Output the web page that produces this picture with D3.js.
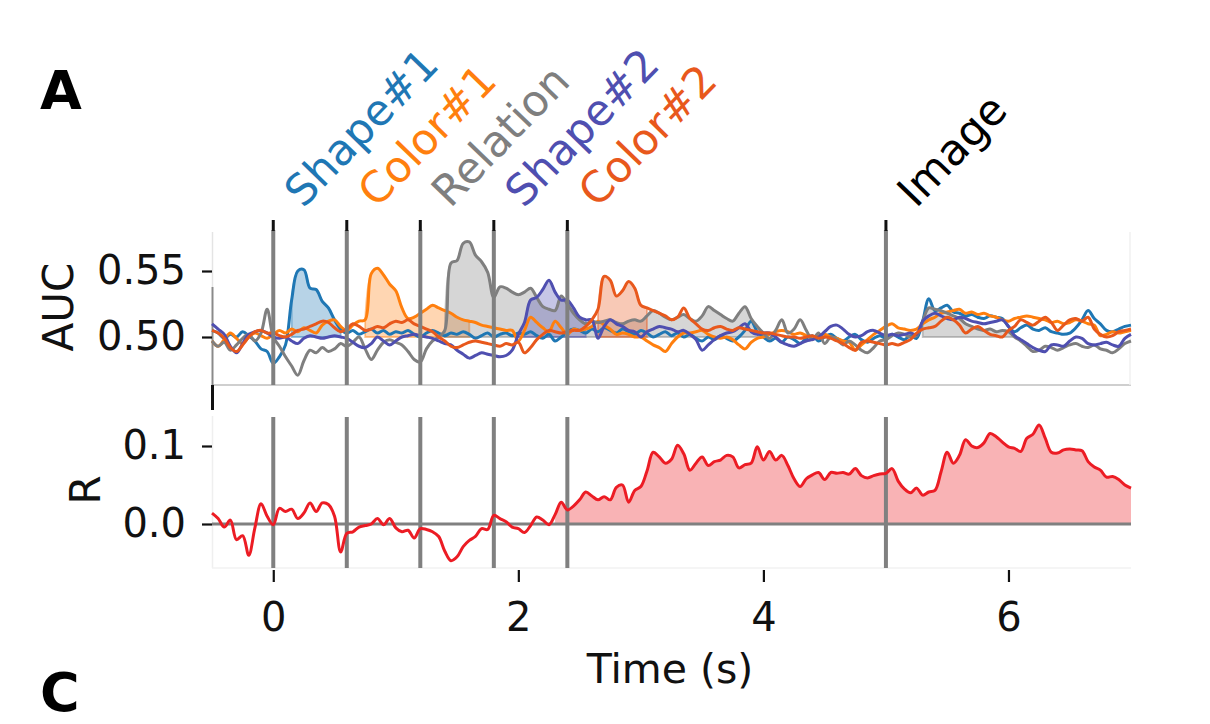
<!DOCTYPE html>
<html><head><meta charset="utf-8">
<script src="https://cdn.jsdelivr.net/npm/d3@7"></script>
<style>
body{margin:0;background:#fff}
svg{display:block}
text{font-family:"DejaVu Sans",sans-serif}
</style>
</head><body>
<svg id="c" width="1210" height="724"></svg>
<script>
// ---- data (sampled every 0.05 s from -0.5 s to 7 s) ----
const tStart = -0.5, tStep = 0.05;

const shape1 = [
0.505,0.503,0.499,0.502,0.500,0.504,0.501,0.497,0.491,0.489,
0.480,0.485,0.494,0.528,0.550,0.551,0.537,0.536,0.527,0.522,
0.513,0.506,0.503,0.505,0.502,0.504,0.506,0.503,0.505,0.502,
0.504,0.503,0.505,0.502,0.500,0.503,0.505,0.503,0.501,0.503,
0.502,0.504,0.502,0.499,0.501,0.503,0.500,0.502,0.503,0.501,
0.503,0.502,0.504,0.501,0.499,0.502,0.497,0.500,0.504,0.506,
0.505,0.503,0.506,0.504,0.507,0.505,0.503,0.506,0.504,0.502,
0.505,0.503,0.500,0.502,0.504,0.501,0.503,0.500,0.502,0.499,
0.497,0.500,0.498,0.501,0.499,0.497,0.500,0.505,0.512,0.504,
0.500,0.497,0.499,0.496,0.500,0.498,0.495,0.499,0.501,0.497,
0.500,0.502,0.499,0.497,0.500,0.502,0.498,0.496,0.499,0.501,
0.499,0.502,0.500,0.498,0.501,0.499,0.512,0.529,0.520,0.522,
0.524,0.519,0.518,0.516,0.517,0.515,0.514,0.516,0.515,0.514,
0.508,0.504,0.507,0.509,0.506,0.505,0.507,0.504,0.503,0.502,
0.503,0.507,0.513,0.520,0.514,0.510,0.505,0.504,0.506,0.508,
0.509];

const color1 = [
0.497,0.493,0.498,0.503,0.499,0.495,0.500,0.503,0.501,0.499,
0.502,0.505,0.503,0.506,0.504,0.507,0.505,0.503,0.509,0.512,
0.513,0.508,0.505,0.509,0.512,0.513,0.548,0.552,0.547,0.540,
0.535,0.522,0.514,0.515,0.518,0.521,0.524,0.522,0.520,0.518,
0.515,0.513,0.512,0.511,0.509,0.508,0.507,0.506,0.505,0.505,
0.497,0.505,0.515,0.511,0.507,0.504,0.512,0.507,0.502,0.506,
0.505,0.506,0.508,0.512,0.509,0.506,0.502,0.503,0.502,0.500,
0.500,0.497,0.494,0.492,0.489,0.495,0.500,0.503,0.503,0.504,
0.505,0.502,0.500,0.499,0.500,0.498,0.494,0.491,0.496,0.499,
0.500,0.502,0.504,0.505,0.504,0.502,0.503,0.501,0.499,0.501,
0.502,0.500,0.499,0.497,0.496,0.490,0.494,0.498,0.502,0.505,
0.508,0.510,0.507,0.506,0.505,0.506,0.510,0.513,0.515,0.518,
0.519,0.520,0.521,0.518,0.519,0.517,0.518,0.516,0.515,0.513,
0.512,0.514,0.515,0.516,0.515,0.514,0.513,0.511,0.512,0.510,
0.511,0.513,0.512,0.510,0.509,0.501,0.502,0.504,0.503,0.504,
0.505];

const relation = [
0.497,0.493,0.496,0.490,0.494,0.499,0.502,0.497,0.503,0.521,
0.500,0.493,0.485,0.478,0.471,0.482,0.490,0.488,0.492,0.489,
0.491,0.495,0.493,0.496,0.500,0.491,0.483,0.490,0.496,0.498,
0.496,0.494,0.489,0.483,0.481,0.491,0.497,0.500,0.505,0.556,
0.558,0.571,0.572,0.562,0.557,0.549,0.530,0.538,0.537,0.534,
0.532,0.534,0.537,0.530,0.523,0.521,0.520,0.531,0.525,0.518,
0.513,0.510,0.512,0.511,0.512,0.513,0.511,0.510,0.512,0.513,
0.512,0.516,0.520,0.518,0.515,0.513,0.515,0.517,0.514,0.512,
0.516,0.523,0.520,0.517,0.514,0.512,0.518,0.523,0.514,0.508,
0.503,0.499,0.505,0.513,0.503,0.506,0.513,0.505,0.498,0.503,
0.495,0.500,0.498,0.494,0.497,0.494,0.490,0.488,0.492,0.497,
0.498,0.501,0.503,0.502,0.500,0.501,0.512,0.522,0.521,0.520,
0.518,0.516,0.514,0.510,0.508,0.506,0.505,0.506,0.504,0.505,
0.504,0.500,0.497,0.493,0.489,0.490,0.493,0.492,0.490,0.492,
0.494,0.495,0.493,0.492,0.494,0.491,0.490,0.488,0.491,0.495,
0.497];

const shape2 = [
0.510,0.506,0.502,0.493,0.488,0.495,0.502,0.504,0.505,0.503,
0.500,0.499,0.500,0.497,0.495,0.499,0.501,0.500,0.499,0.500,
0.501,0.500,0.499,0.496,0.493,0.492,0.495,0.500,0.497,0.494,
0.497,0.500,0.501,0.502,0.501,0.500,0.499,0.497,0.495,0.494,
0.490,0.487,0.484,0.486,0.488,0.487,0.486,0.485,0.486,0.490,
0.502,0.511,0.528,0.530,0.536,0.543,0.534,0.528,0.528,0.522,
0.515,0.513,0.513,0.499,0.508,0.513,0.510,0.508,0.505,0.504,
0.500,0.504,0.506,0.508,0.507,0.506,0.504,0.505,0.502,0.498,
0.490,0.494,0.498,0.501,0.503,0.504,0.507,0.510,0.504,0.502,
0.503,0.503,0.500,0.496,0.494,0.493,0.495,0.497,0.498,0.500,
0.504,0.508,0.509,0.506,0.502,0.500,0.501,0.504,0.505,0.503,
0.501,0.502,0.501,0.502,0.503,0.502,0.512,0.516,0.518,0.516,
0.514,0.513,0.515,0.514,0.512,0.511,0.510,0.511,0.512,0.513,
0.508,0.501,0.498,0.495,0.492,0.490,0.489,0.494,0.494,0.493,
0.497,0.500,0.499,0.495,0.494,0.495,0.496,0.494,0.493,0.499,
0.502];

const color2 = [
0.505,0.503,0.499,0.492,0.489,0.494,0.500,0.504,0.505,0.503,
0.503,0.501,0.500,0.502,0.505,0.506,0.508,0.510,0.512,0.511,
0.507,0.504,0.506,0.510,0.508,0.505,0.506,0.508,0.507,0.510,
0.512,0.511,0.513,0.510,0.508,0.506,0.504,0.500,0.497,0.493,
0.492,0.494,0.496,0.497,0.496,0.495,0.494,0.493,0.495,0.494,
0.496,0.488,0.492,0.498,0.502,0.505,0.504,0.503,0.504,0.505,
0.505,0.508,0.513,0.521,0.546,0.543,0.531,0.535,0.542,0.537,
0.524,0.522,0.520,0.518,0.516,0.513,0.515,0.522,0.514,0.510,
0.506,0.505,0.507,0.508,0.506,0.505,0.507,0.506,0.505,0.504,
0.503,0.503,0.502,0.501,0.500,0.500,0.499,0.500,0.501,0.499,
0.500,0.499,0.497,0.495,0.492,0.490,0.496,0.497,0.496,0.495,
0.494,0.495,0.494,0.496,0.498,0.503,0.506,0.507,0.508,0.512,
0.515,0.513,0.509,0.503,0.506,0.508,0.505,0.502,0.501,0.500,
0.505,0.508,0.513,0.511,0.509,0.512,0.515,0.511,0.505,0.509,
0.513,0.514,0.512,0.515,0.506,0.502,0.500,0.501,0.504,0.505,
0.506];

const rValues = [
0.014,0.007,-0.004,0.005,-0.020,-0.015,-0.040,-0.005,0.026,0.010,
-0.001,0.020,0.016,0.019,0.007,0.014,0.027,0.016,0.027,0.025,
0.010,-0.036,-0.012,-0.010,-0.004,-0.002,0.000,0.007,-0.001,0.007,
-0.005,-0.010,-0.008,-0.018,-0.006,-0.007,-0.010,-0.016,-0.035,-0.047,
-0.042,-0.029,-0.021,-0.016,-0.006,-0.007,0.011,0.007,0.003,-0.004,
-0.006,-0.011,-0.002,0.009,0.005,-0.001,0.012,0.028,0.018,0.023,
0.031,0.041,0.036,0.031,0.035,0.031,0.047,0.050,0.028,0.043,
0.048,0.068,0.092,0.086,0.078,0.083,0.101,0.090,0.069,0.078,
0.086,0.075,0.080,0.082,0.088,0.086,0.072,0.076,0.078,0.099,
0.082,0.093,0.082,0.088,0.075,0.058,0.048,0.058,0.063,0.066,
0.057,0.066,0.065,0.066,0.064,0.071,0.062,0.059,0.062,0.064,
0.065,0.071,0.055,0.045,0.040,0.046,0.037,0.041,0.043,0.067,
0.092,0.078,0.088,0.108,0.100,0.098,0.104,0.116,0.112,0.105,
0.099,0.097,0.093,0.110,0.115,0.127,0.110,0.092,0.091,0.095,
0.096,0.095,0.094,0.080,0.073,0.069,0.060,0.061,0.057,0.050,
0.046];

const seriesNames  = ["Shape#1","Color#1","Relation","Shape#2","Color#2"];
const seriesValues = [shape1, color1, relation, shape2, color2];
const seriesColors = ["#1f77b4","#ff7f0e","#7f7f7f","#4f4fb0","#e8581c"];
// significant clusters (start, end in s) per series index
const clusterSeries = [0, 1, 2, 2, 3, 4];
const clusterStart  = [0.15, 0.75, 1.40, 5.30, 2.00, 2.65];
const clusterEnd    = [0.55, 1.60, 4.00, 6.05, 2.55, 3.05];
const rSigStart = 2.30;

const eventTimes  = [0, 0.6, 1.2, 1.8, 2.4, 5.0];
const eventLabels = ["Shape#1","Color#1","Relation","Shape#2","Color#2","Image"];
const eventColors = ["#1f77b4","#ff7f0e","#7f7f7f","#4f4fb0","#e8581c","#000000"];

const xTicks = [0, 2, 4, 6];
const aucTicks = [0.50, 0.55];
const rTicks = [0.0, 0.1];

// ---- drawing ----
const svg = d3.select("#c");
const times = shape1.map((_, i) => +(tStart + i * tStep).toFixed(2));

const x = d3.scaleLinear().domain([-0.5, 7]).range([212, 1131]);
const yTop = d3.scaleLinear().domain([0.46364, 0.58106]).range([385, 230]);
const yBot = d3.scaleLinear().domain([-0.05641, 0.13846]).range([568, 416]);
const curve = d3.curveCatmullRom.alpha(0.5);

// top panel frame
svg.append("line").attr("x1", 212).attr("x2", 1131).attr("y1", 385).attr("y2", 385)
  .attr("stroke", "#cfcfcf").attr("stroke-width", 2);
svg.append("line").attr("x1", 1130).attr("x2", 1130).attr("y1", 232).attr("y2", 385)
  .attr("stroke", "#f0f0f0").attr("stroke-width", 1.5);
svg.append("line").attr("x1", 212.5).attr("x2", 212.5).attr("y1", 232).attr("y2", 287)
  .attr("stroke", "#e4e4e4").attr("stroke-width", 1.5);
svg.append("line").attr("x1", 212.5).attr("x2", 212.5).attr("y1", 287).attr("y2", 385)
  .attr("stroke", "#8a8a8a").attr("stroke-width", 2);
svg.append("line").attr("x1", 212.5).attr("x2", 212.5).attr("y1", 385).attr("y2", 410)
  .attr("stroke", "#111").attr("stroke-width", 3);
// bottom panel faint frame
svg.append("line").attr("x1", 212.5).attr("x2", 212.5).attr("y1", 416).attr("y2", 568)
  .attr("stroke", "#efefef").attr("stroke-width", 1.5);
svg.append("line").attr("x1", 212).attr("x2", 1131).attr("y1", 568).attr("y2", 568)
  .attr("stroke", "#f2f2f2").attr("stroke-width", 1.5);

// cluster fills (top)
const gFill = svg.append("g");
clusterSeries.forEach((si, k) => {
  const pts = times.map((t, i) => [t, seriesValues[si][i]])
    .filter(p => p[0] >= clusterStart[k] - 1e-9 && p[0] <= clusterEnd[k] + 1e-9);
  const area = d3.area().curve(curve).x(p => x(p[0])).y0(yTop(0.5)).y1(p => yTop(p[1]));
  gFill.append("path").attr("d", area(pts))
    .attr("fill", seriesColors[si]).attr("fill-opacity", 0.32)
    .attr("stroke", seriesColors[si]).attr("stroke-opacity", 0.45).attr("stroke-width", 1.8);
});

// lines (top)
const gLines = svg.append("g");
seriesValues.forEach((vals, si) => {
  const line = d3.line().curve(curve).x((v, i) => x(times[i])).y(v => yTop(v));
  gLines.append("path").attr("d", line(vals))
    .attr("fill", "none").attr("stroke", seriesColors[si])
    .attr("stroke-width", 3).attr("stroke-linejoin", "round");
});

// bottom panel: fill, zero line
const rPts = times.map((t, i) => [t, rValues[i]]).filter(p => p[0] >= rSigStart - 1e-9);
svg.append("path")
  .attr("d", d3.area().curve(curve).x(p => x(p[0])).y0(yBot(0)).y1(p => yBot(p[1]))(rPts))
  .attr("fill", "#f9b3b5");
svg.append("line").attr("x1", 212).attr("x2", 1131).attr("y1", yBot(0)).attr("y2", yBot(0))
  .attr("stroke", "#808080").attr("stroke-width", 3);

// event lines
const gEv = svg.append("g");
eventTimes.forEach(t => {
  gEv.append("line").attr("x1", x(t)).attr("x2", x(t)).attr("y1", 230).attr("y2", 385)
    .attr("stroke", "#808080").attr("stroke-width", 4);
  gEv.append("line").attr("x1", x(t)).attr("x2", x(t)).attr("y1", 417).attr("y2", 568)
    .attr("stroke", "#808080").attr("stroke-width", 4);
  gEv.append("line").attr("x1", x(t)).attr("x2", x(t)).attr("y1", 220).attr("y2", 231)
    .attr("stroke", "#111").attr("stroke-width", 3);
});

// R line
svg.append("path")
  .attr("d", d3.line().curve(curve).x((v, i) => x(times[i])).y(v => yBot(v))(rValues))
  .attr("fill", "none").attr("stroke", "#ec1c24").attr("stroke-width", 3)
  .attr("stroke-linejoin", "round");

// event labels
eventTimes.forEach((t, k) => {
  svg.append("text")
    .attr("transform", `translate(${x(t) + 30},209) rotate(-46)`)
    .attr("font-size", 43).attr("fill", eventColors[k])
    .text(eventLabels[k]);
});

// axes
function styleAxis(g) {
  g.select(".domain").remove();
  g.selectAll(".tick line").attr("stroke", "#111").attr("stroke-width", 2.2);
  g.selectAll(".tick text").attr("font-family", "DejaVu Sans").attr("font-size", 40).attr("fill", "#111");
}
svg.append("g").attr("transform", "translate(212,0)")
  .call(d3.axisLeft(yTop).tickValues(aucTicks).tickFormat(d3.format(".2f")).tickSize(10).tickPadding(16))
  .call(styleAxis);
svg.append("g").attr("transform", "translate(212,0)")
  .call(d3.axisLeft(yBot).tickValues(rTicks).tickFormat(d3.format(".1f")).tickSize(10).tickPadding(16))
  .call(styleAxis);
svg.append("g").attr("transform", "translate(0,570)")
  .call(d3.axisBottom(x).tickValues(xTicks).tickFormat(d3.format("d")).tickSize(12).tickPadding(21))
  .call(styleAxis);

// axis titles
svg.append("text").attr("transform", "translate(73,307) rotate(-90)")
  .attr("text-anchor", "middle").attr("font-size", 42).attr("fill", "#111").text("AUC");
svg.append("text").attr("transform", "translate(100,490) rotate(-90)")
  .attr("text-anchor", "middle").attr("font-size", 42).attr("fill", "#111").text("R");
svg.append("text").attr("x", 670).attr("y", 683)
  .attr("text-anchor", "middle").attr("font-size", 41).attr("fill", "#111").text("Time (s)");

// panel letters
svg.append("text").attr("x", 40).attr("y", 109).attr("font-family", "Liberation Sans")
  .attr("font-weight", "bold").attr("font-size", 54).attr("fill", "#000").text("A");
svg.append("text").attr("x", 40).attr("y", 711).attr("font-family", "Liberation Sans")
  .attr("font-weight", "bold").attr("font-size", 54).attr("fill", "#000").text("C");
</script>
</body></html>
